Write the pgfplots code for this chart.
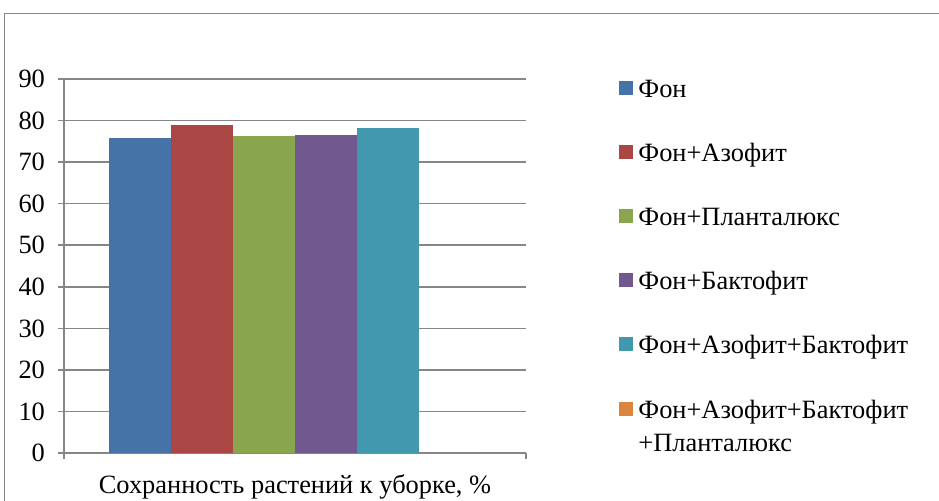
\documentclass[border=0pt]{standalone}
\usepackage{fontspec}
\setmainfont{Liberation Serif}
\usepackage{pgfplots}
\pgfplotsset{compat=1.18}
\definecolor{gridc}{RGB}{134,134,134}
\definecolor{c1}{HTML}{4572A7}
\definecolor{c2}{HTML}{AA4643}
\definecolor{c3}{HTML}{89A54E}
\definecolor{c4}{HTML}{71588F}
\definecolor{c5}{HTML}{4198AF}
\definecolor{c6}{HTML}{DB843D}
\begin{document}
\begin{tikzpicture}[font=\rmfamily\fontsize{13.2pt}{16.5pt}\selectfont]
\useasboundingbox (0,0) rectangle (469.5pt,-250pt);
\begin{axis}[
  at={(32pt,-226.5pt)}, anchor=south west,
  scale only axis, width=231pt, height=187pt,
  xmin=-0.5, xmax=0.5, ymin=0, ymax=90,
  ytick={0,10,...,90}, xtick={-0.5,0.5}, xticklabels={},
  axis x line*=bottom, axis y line*=left,
  axis line style={gridc, line width=0.8pt},
  tick style={gridc, line width=0.8pt},
  tick align=outside, major tick length=3pt,
  ymajorgrids, grid style={gridc, line width=0.8pt},
  yticklabel style={xshift=-3pt},
  /pgf/number format/assume math mode=true,
  ybar=0pt, bar width=31pt,
  xlabel={Сохранность растений к уборке, \%},
  xlabel style={at={(axis description cs:0.5,0)}, anchor=base, yshift=-20pt},
  legend image code/.code={\draw[#1,draw=none] (0pt,-3.5pt) rectangle (7pt,3.5pt);},
  legend style={at={(1.2013,1.0115)}, anchor=north west, draw=none, fill=none,
    inner sep=0pt, row sep=19.6pt, column sep=2.5pt,
    nodes={inner sep=0pt, text height=11pt, text depth=1.5pt}, cells={anchor=west}},
]
\addplot[fill=c1, draw=none] coordinates {(0,75.7)};
\addplot[fill=c2, draw=none] coordinates {(0,78.9)};
\addplot[fill=c3, draw=none] coordinates {(0,76.3)};
\addplot[fill=c4, draw=none] coordinates {(0,76.5)};
\addplot[fill=c5, draw=none] coordinates {(0,78.2)};
\addplot[fill=c6, draw=none] coordinates {(0,0)};
\legend{Фон, Фон+Азофит, Фон+Планталюкс, Фон+Бактофит, Фон+Азофит+Бактофит,
  {\begin{tabular}[t]{@{}l@{}}Фон+Азофит+Бактофит\\+Планталюкс\end{tabular}}}
\end{axis}
\draw[gridc, line width=0.8pt] (2.25pt,-260pt) -- (2.25pt,-6.67pt) -- (480pt,-6.67pt);
\end{tikzpicture}
\end{document}
